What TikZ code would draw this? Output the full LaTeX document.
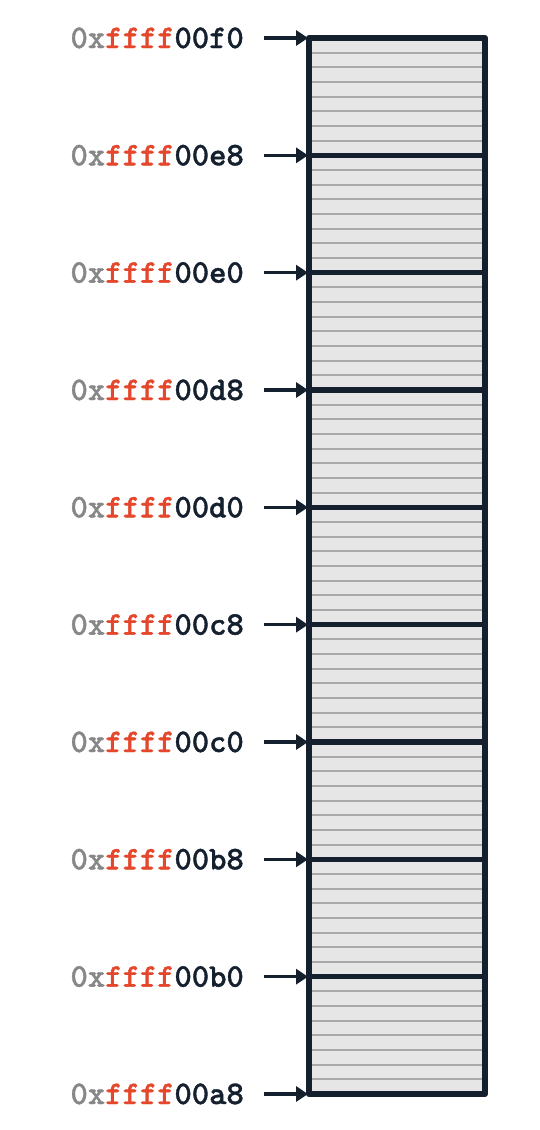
\documentclass[tikz,border=0pt]{standalone}
\usepackage{fontspec}
\newfontfamily\addrfont{lmmonolt10-bold.otf}[FakeBold=1.2]
\usetikzlibrary{arrows.meta}
\definecolor{navy}{HTML}{15202F}
\definecolor{addrgray}{HTML}{878787}
\definecolor{addrred}{HTML}{E4472B}
\definecolor{memfill}{HTML}{E6E6E6}
\definecolor{minorgray}{HTML}{A8A8A8}
\tikzset{
  minorline/.style={draw=minorgray, line width=2pt},
  majorline/.style={draw=navy, line width=5.3pt},
  border/.style={draw=navy, line width=6pt, line join=round},
  addr/.style={anchor=base east, inner sep=0pt, font=\addrfont\fontsize{33}{33}\selectfont},
  ptr/.style={draw=navy, line width=3.3pt, -{Triangle[length=12pt,width=15pt]}}
}
\newcommand{\addrtext}[1]{\textcolor{addrgray}{0x}\textcolor{addrred}{ffff}\textcolor{navy}{00#1}}
\begin{document}
\begin{tikzpicture}[x=1pt,y=-1pt]
\useasboundingbox (0,0) rectangle (540,1130);
\fill[memfill] (309,38) rectangle (485,1094);
% minor lines
\foreach \k in {1,...,71}{
  \pgfmathsetmacro{\yy}{38+\k*14.66667}
  \draw[minorline] (309,\yy) -- (485,\yy);
}
% major lines, labels and pointers
\foreach \lab [count=\i from 0] in {f0,e8,e0,d8,d0,c8,c0,b8,b0,a8}{
  \pgfmathsetmacro{\yy}{38+\i*117.33333}
  \draw[majorline] (309,\yy) -- (485,\yy);
  \node[addr] (l\i) at (244,\yy+10) {\addrtext{\lab}};
  \coordinate (a\i) at (264,\yy);
  \coordinate (p\i) at (308,\yy);
}
\draw[border] (309,38) rectangle (485,1094);
\foreach \i in {0,...,9}{
  \draw[ptr] (a\i) -- (p\i);
}
\end{tikzpicture}
\end{document}
